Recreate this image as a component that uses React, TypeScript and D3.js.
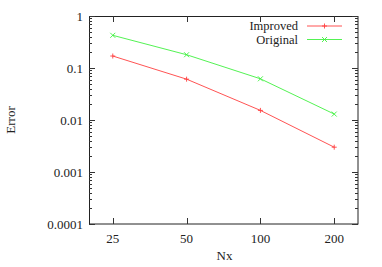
import { useRef, useEffect } from "react";
import * as d3 from "d3";

// Grid sizes and error values
const nx = [25, 50, 100, 200];
const improved = [0.17, 0.061, 0.0153, 0.003];
const original = [0.425, 0.18, 0.062, 0.013];
const yTicks = [1, 0.1, 0.01, 0.001, 0.0001];
const yLabels = ["1", "0.1", "0.01", "0.001", "0.0001"];
const seriesNames = ["Improved", "Original"];
const seriesColors = ["#ff4040", "#40f040"];

const W = 382;
const H = 267;
const FONT = "Liberation Serif, Times New Roman, serif";
const FS = 13;

const App = () => {
  const svgRef = useRef<SVGSVGElement>(null);

  useEffect(() => {
    const svg = d3.select(svgRef.current);
    svg.selectAll("*").remove();

    const left = 89;
    const right = 358;
    const top = 16;
    const bottom = 224;

    // Setting up scaling
    const x = d3.scaleLog().base(2).domain([20, 250]).range([left, right]);
    const y = d3.scaleLog().domain([0.0001, 1]).range([bottom, top]);

    const label = (xx, yy, txt, anchor, fs = FS) =>
      svg
        .append("text")
        .attr("x", xx)
        .attr("y", yy)
        .attr("text-anchor", anchor)
        .style("font-family", FONT)
        .style("font-size", fs + "px")
        .attr("fill", "#222")
        .text(txt);

    // Frame
    svg
      .append("rect")
      .attr("x", left + 0.5)
      .attr("y", top + 0.5)
      .attr("width", right - left - 0.5)
      .attr("height", bottom - top - 0.5)
      .attr("fill", "none")
      .attr("stroke", "#222")
      .attr("stroke-width", 1);

    const ticks = svg.append("g").attr("stroke", "#333").attr("stroke-width", 1);

    // Y major + minor ticks, mirrored
    yTicks.forEach((v, i) => {
      const yy = Math.round(y(v)) + 0.5;
      ticks.append("line").attr("x1", left).attr("x2", left + 6).attr("y1", yy).attr("y2", yy);
      ticks.append("line").attr("x1", right - 6).attr("x2", right).attr("y1", yy).attr("y2", yy);
      label(left - 6, y(v) + 4.5, yLabels[i], "end");
      if (v < 1) {
        for (let k = 2; k <= 9; k++) {
          const my = Math.round(y(v * k)) + 0.5;
          ticks.append("line").attr("x1", left).attr("x2", left + 3).attr("y1", my).attr("y2", my);
          ticks.append("line").attr("x1", right - 3).attr("x2", right).attr("y1", my).attr("y2", my);
        }
      }
    });

    // X ticks, mirrored
    nx.forEach((v) => {
      const xx = Math.round(x(v)) + 0.5;
      ticks.append("line").attr("x1", xx).attr("x2", xx).attr("y1", bottom).attr("y2", bottom - 6);
      ticks.append("line").attr("x1", xx).attr("x2", xx).attr("y1", top).attr("y2", top + 6);
      label(x(v), bottom + 19, v, "middle");
    });

    // Axis labels
    label((left + right) / 2 + 1, 260, "Nx", "middle");
    label(0, 0, "Error", "middle").attr(
      "transform",
      `translate(15, ${(top + bottom) / 2}) rotate(-90)`
    );

    const line = d3
      .line<number>()
      .x((d, i) => x(nx[i]))
      .y((d) => y(d));

    const drawMarker = (g, cx, cy, kind, color) => {
      const s = 2.5;
      if (kind === 0) {
        g.append("path").attr("d", `M${cx - s},${cy}H${cx + s}M${cx},${cy - s}V${cy + s}`).attr("stroke", color);
      } else {
        g.append("path")
          .attr("d", `M${cx - s},${cy - s}L${cx + s},${cy + s}M${cx - s},${cy + s}L${cx + s},${cy - s}`)
          .attr("stroke", color);
      }
    };

    [improved, original].forEach((vals, si) => {
      const color = seriesColors[si];
      svg
        .append("path")
        .datum(vals)
        .attr("d", line)
        .attr("fill", "none")
        .attr("stroke", color)
        .attr("stroke-width", 0.9);
      const g = svg.append("g").attr("stroke-width", 0.9);
      vals.forEach((v, i) => drawMarker(g, x(nx[i]), y(v), si, color));

      // Legend
      const ly = 26 + si * 13.5;
      label(298, ly + 4.2, seriesNames[si], "end", 12.5);
      svg
        .append("line")
        .attr("x1", 307)
        .attr("x2", 342)
        .attr("y1", ly)
        .attr("y2", ly)
        .attr("stroke", color)
        .attr("stroke-width", 0.9);
      drawMarker(g, 324.5, ly, si, color);
    });
  }, []);

  return (
    <svg
      ref={svgRef}
      width={W}
      height={H}
      style={{ position: "absolute", left: 0, top: 0, background: "#fff" }}
    ></svg>
  );
};

export default App;
